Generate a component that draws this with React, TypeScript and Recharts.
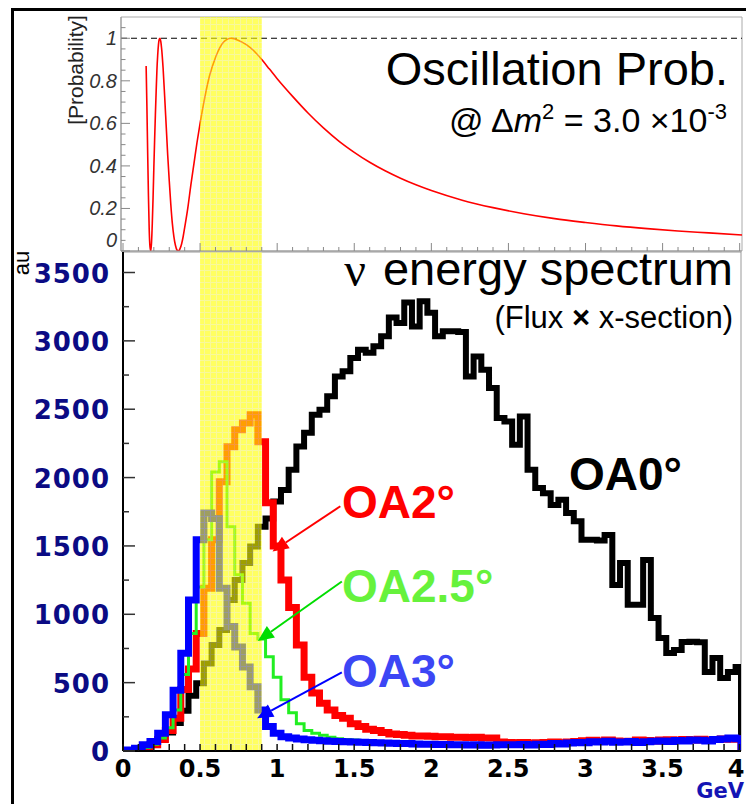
import { LineChart, Line, XAxis, YAxis, ReferenceArea, ReferenceLine } from 'recharts';

// histogram bins are 0.05 GeV wide, centred on multiples of 0.05
const BIN_WIDTH = 0.05;
const BIN_CENTERS = Array.from({ length: 81 }, (_, i) => +(i * BIN_WIDTH).toFixed(2));
const X_END = 4.01;

const OA0 = [
  2, 5, 12, 28, 50, 85, 135, 205, 295, 405,
  495, 640, 775, 885, 1105, 1250, 1375, 1495, 1640, 1700,
  1825, 1910, 2057, 2228, 2327, 2460, 2496, 2594, 2740, 2777,
  2875, 2935, 2913, 2960, 3033, 3170, 3130, 3280, 3105, 3290,
  3205, 3033, 3070, 3070, 3065, 2740, 2886, 2789, 2655, 2435,
  2410, 2240, 2447, 2057, 1923, 1886, 1800, 1837, 1740, 1680,
  1545, 1545, 1540, 1580, 1215, 1376, 1069, 1069, 1398, 973,
  827, 717, 739, 798, 800, 795, 578, 680, 534, 578,
  615,
];
const OA2 = [
  2, 4, 10, 22, 45, 85, 150, 240, 450, 600,
  860, 1190, 1545, 1970, 2225, 2350, 2400, 2460, 2262, 1815,
  1500, 1250, 1050, 775, 540, 425, 350, 300, 260, 240,
  200, 180, 160, 150, 135, 125, 120, 115, 110, 110,
  108, 105, 105, 100, 100, 98, 100, 96, 95, 65,
  62, 60, 62, 58, 60, 62, 65, 60, 66, 70,
  75, 78, 72, 80, 74, 70, 72, 80, 76, 74,
  80, 82, 78, 84, 80, 86, 80, 84, 88, 86,
  90,
];
const OA25 = [
  2, 4, 10, 25, 50, 95, 170, 300, 560, 860,
  1200, 1545, 2040, 2115, 1640, 1290, 1080, 860, 820, 690,
  540, 375, 280, 200, 150, 130, 115, 100, 90, 85,
  80, 75, 72, 70, 68, 66, 62, 60, 60, 58,
  58, 56, 55, 55, 54, 55, 54, 52, 52, 42,
  44, 43, 45, 42, 47, 46, 52, 50, 55, 58,
  57, 64, 62, 68, 62, 63, 66, 60, 65, 70,
  70, 68, 72, 72, 76, 75, 72, 80, 84, 88,
  86,
];
const OA3 = [
  3, 8, 20, 45, 70, 130, 265, 445, 715, 1105,
  1545, 1740, 1700, 1190, 910, 760, 615, 470, 300, 180,
  130, 105, 95, 88, 82, 78, 75, 72, 70, 68,
  66, 64, 62, 60, 58, 56, 55, 54, 52, 50,
  50, 48, 48, 45, 46, 44, 45, 42, 44, 45,
  46, 45, 48, 44, 50, 48, 55, 52, 58, 62,
  60, 68, 65, 72, 64, 66, 70, 62, 68, 72,
  74, 70, 76, 74, 80, 78, 74, 84, 88, 95,
  90,
];

// oscillation probability
const PROB_E = [
  0.15, 0.155, 0.16, 0.165, 0.17, 0.175, 0.18, 0.185, 0.19, 0.195,
  0.2, 0.205, 0.21, 0.215, 0.22, 0.225, 0.23, 0.235, 0.24, 0.245,
  0.25, 0.26, 0.27, 0.28, 0.29, 0.3, 0.31, 0.32, 0.33, 0.34,
  0.35, 0.36, 0.37, 0.38, 0.39, 0.4, 0.42, 0.44, 0.46, 0.48,
  0.5, 0.53, 0.56, 0.6, 0.65, 0.7, 0.75, 0.8, 0.85, 0.9,
  0.95, 1.0, 1.1, 1.2, 1.3, 1.4, 1.5, 1.6, 1.7, 1.8,
  1.9, 2.0, 2.2, 2.4, 2.6, 2.8, 3.0, 3.2, 3.4, 3.6,
  3.8, 4.015,
];
const PROB_P = [
  0.87, 0.68, 0.46, 0.26, 0.1, 0.02, 0.0, 0.04, 0.13, 0.25,
  0.39, 0.52, 0.64, 0.75, 0.85, 0.92, 0.97, 0.995, 1.0, 0.985,
  0.955, 0.86, 0.73, 0.59, 0.45, 0.33, 0.22, 0.13, 0.068, 0.027,
  0.005, 0.0, 0.011, 0.033, 0.067, 0.11, 0.2, 0.31, 0.41, 0.51,
  0.6, 0.72, 0.82, 0.91, 0.98, 1.0, 0.99, 0.97, 0.94, 0.9,
  0.855, 0.81, 0.727, 0.649, 0.579, 0.517, 0.464, 0.417, 0.377, 0.342,
  0.311, 0.284, 0.239, 0.204, 0.175, 0.152, 0.134, 0.118, 0.105, 0.094,
  0.085, 0.075,
];

const X_LABELS = ['0', '0.5', '1', '1.5', '2', '2.5', '3', '3.5', '4'];
const Y_LABELS = ['0', '500', '1000', '1500', '2000', '2500', '3000', '3500'];
const PROB_LABELS = ['0', '0.2', '0.4', '0.6', '0.8', '1'];

const X_TICKS = Array.from({ length: 41 }, (_, i) => i / 10);
const Y_TICKS = Array.from({ length: 15 }, (_, i) => i * 250);
const PROB_TICKS = Array.from({ length: 22 }, (_, i) => +(i * 0.05).toFixed(2));

const BAND = [0.5, 0.9];

// arrows: [start E, start value] -> [tip E, tip value]
const ARROWS = [
  { from: [1.41, 1790], to: [0.97, 1460], color: '#ff0000', width: 2 },
  { from: [1.42, 1240], to: [0.875, 805], color: '#00dd00', width: 2 },
  { from: [1.42, 575], to: [0.87, 240], color: '#0000ff', width: 2 },
];

const spectrum = BIN_CENTERS.map((c, i) => ({
  e: Math.max(0, c - BIN_WIDTH / 2),
  oa0: OA0[i],
  oa2: OA2[i],
  oa25: OA25[i],
  oa3: OA3[i],
}));
spectrum.push({ e: X_END, oa0: 0, oa2: 0, oa25: 0, oa3: 0 });

const prob = PROB_E.map((e, i) => ({ e, p: PROB_P[i] }));

const BOLD = '"DejaVu Sans", Verdana, sans-serif';
const SANS = '"Liberation Sans", Arial, sans-serif';

const isMultiple = (v: number, step: number) => Math.abs(v / step - Math.round(v / step)) < 1e-6;

function SpecXTick(props: any) {
  const { x, y, payload } = props;
  const v = payload.value;
  const major = isMultiple(v, 0.5);
  const last = v > 3.99;
  return (
    <g>
      <line x1={x} x2={x} y1={y} y2={y - 7} stroke="#111" strokeWidth={1.5} />
      {major && (
        <text x={last ? x + 5 : x} y={y + 26} textAnchor={last ? 'end' : 'middle'} fontFamily={BOLD} fontWeight="bold" fontSize={24} fill="#000">
          {X_LABELS[Math.round(v / 0.5)]}
        </text>
      )}
    </g>
  );
}

function SpecYTick(props: any) {
  const { x, y, payload } = props;
  const v = payload.value;
  const major = isMultiple(v, 500);
  return (
    <g>
      <line x1={x} x2={x + (major ? 12 : 6)} y1={y} y2={y} stroke="#333" strokeWidth={1.5} />
      {major && (
        <text x={x - 13} y={y + 10} textAnchor="end" fontFamily={BOLD} fontWeight="bold" fontSize={26} letterSpacing={1} fill="#0b0b84">
          {Y_LABELS[Math.round(v / 500)]}
        </text>
      )}
    </g>
  );
}

function ProbXTick(props: any) {
  const { x, y, payload } = props;
  const major = isMultiple(payload.value, 0.5);
  return <line x1={x} x2={x} y1={y} y2={y - (major ? 8 : 4)} stroke="#888" />;
}

function ProbYTick(props: any) {
  const { x, y, payload } = props;
  const v = payload.value;
  const major = isMultiple(v, 0.2) && v < 1.01;
  return (
    <g>
      <line x1={x} x2={x + (major ? 9 : 4.5)} y1={y} y2={y} stroke="#888" />
      {major && (
        <text x={x - 4} y={v === 0 ? y - 4 : y + 7} textAnchor="end" fontFamily={SANS} fontStyle="italic" fontSize={20} fill="#333">
          {PROB_LABELS[Math.round(v / 0.2)]}
        </text>
      )}
    </g>
  );
}

function arrowShape(color: string, width: number) {
  return (props: any) => {
    const { x1, y1, x2, y2 } = props;
    const dx = x2 - x1;
    const dy = y2 - y1;
    const len = Math.hypot(dx, dy) || 1;
    const ux = dx / len;
    const uy = dy / len;
    const hl = 16;
    const hw = 7;
    const bx = x2 - ux * hl;
    const by = y2 - uy * hl;
    const pts = `${x2},${y2} ${bx - uy * hw},${by + ux * hw} ${bx + uy * hw},${by - ux * hw}`;
    return (
      <g>
        <line x1={x1} y1={y1} x2={bx} y2={by} stroke={color} strokeWidth={width} />
        <polygon points={pts} fill={color} />
      </g>
    );
  };
}

export default function App() {
  return (
    <div style={{ position: 'absolute', left: 0, top: 0, width: 746, height: 804, overflow: 'hidden', background: '#fff' }}>
      <div style={{ position: 'absolute', left: 11, top: 8, width: 900, height: 900, borderLeft: '3px solid #000', borderTop: '3px solid #000' }} />

      {/* hatch used by the highlighted energy window */}
      <svg width={0} height={0} style={{ position: 'absolute' }}>
        <defs>
          <pattern id="bandHatch" width={6} height={6} patternUnits="userSpaceOnUse">
            <rect width={6} height={6} fill="#ffff00" />
            <path d="M0 0.5H6M0.5 0V6" stroke="#f4f460" strokeWidth={1} />
          </pattern>
        </defs>
      </svg>

      <div style={{ position: 'absolute', left: 0, top: 0 }}>
        <LineChart width={746} height={260} data={prob} margin={{ top: 17, right: 4, bottom: 0, left: 0 }}>
          <XAxis
            dataKey="e"
            type="number"
            domain={[-0.013, 4.015]}
            allowDataOverflow
            ticks={X_TICKS}
            interval={0}
            height={9}
            tickSize={0}
            tickMargin={0}
            tick={ProbXTick}
            axisLine={{ stroke: '#999' }}
            tickLine={false}
          />
          <YAxis
            type="number"
            domain={[0, 1.1]}
            allowDataOverflow
            ticks={PROB_TICKS}
            interval={0}
            width={121}
            tickSize={0}
            tickMargin={0}
            tick={ProbYTick}
            axisLine={{ stroke: '#999' }}
            tickLine={false}
          />
          <ReferenceArea x1={-0.013} x2={4.015} y1={0} y2={1.1} fill="none" stroke="#aaa" strokeWidth={1} />
          <ReferenceLine y={1} stroke="#000" strokeDasharray="6 4" strokeWidth={1.2} />
          <Line dataKey="p" type="monotone" stroke="#ff0000" strokeWidth={1.6} dot={false} activeDot={false} isAnimationActive={false} />
          <ReferenceArea x1={BAND[0]} x2={BAND[1]} y1={0} y2={1.1} fill="url(#bandHatch)" fillOpacity={0.62} stroke="none" zIndex={450} />
        </LineChart>
      </div>

      <div style={{ position: 'absolute', left: 0, top: 0 }}>
        <LineChart width={746} height={804} data={spectrum} margin={{ top: 252, right: 5, bottom: 0, left: 0 }}>
          <XAxis
            dataKey="e"
            type="number"
            domain={[0, X_END]}
            allowDataOverflow
            ticks={X_TICKS}
            interval={0}
            height={53}
            tickSize={0}
            tickMargin={0}
            tick={SpecXTick}
            axisLine={{ stroke: '#000', strokeWidth: 2 }}
            tickLine={false}
          />
          <YAxis
            type="number"
            domain={[0, 3650]}
            allowDataOverflow
            ticks={Y_TICKS}
            interval={0}
            width={123}
            tickSize={0}
            tickMargin={0}
            tick={SpecYTick}
            axisLine={{ stroke: '#000', strokeWidth: 2 }}
            tickLine={false}
          />
          <ReferenceArea x1={0} x2={X_END} y1={0} y2={3650} fill="none" stroke="#999" strokeWidth={1} />
          <Line dataKey="oa0" type="stepAfter" stroke="#000" strokeWidth={6} strokeLinejoin="miter" dot={false} activeDot={false} isAnimationActive={false} />
          <Line dataKey="oa2" type="stepAfter" stroke="#ff0000" strokeWidth={7} strokeLinejoin="miter" dot={false} activeDot={false} isAnimationActive={false} />
          <Line dataKey="oa25" type="stepAfter" stroke="#22ee22" strokeWidth={3} strokeLinejoin="miter" dot={false} activeDot={false} isAnimationActive={false} />
          <Line dataKey="oa3" type="stepAfter" stroke="#0000ff" strokeWidth={7} strokeLinejoin="miter" dot={false} activeDot={false} isAnimationActive={false} />
          <ReferenceArea x1={BAND[0]} x2={BAND[1]} y1={0} y2={3650} fill="url(#bandHatch)" fillOpacity={0.62} stroke="none" zIndex={450} />
          {ARROWS.map((a, i) => (
            <ReferenceLine
              key={i}
              segment={[{ x: a.from[0], y: a.from[1] }, { x: a.to[0], y: a.to[1] }]}
              shape={arrowShape(a.color, a.width)}
              zIndex={460}
            />
          ))}
        </LineChart>
      </div>

      <svg width={746} height={804} style={{ position: 'absolute', left: 0, top: 0, pointerEvents: 'none' }}>
        <text x={83} y={70} transform="rotate(-90 83 70)" textAnchor="middle" fontFamily={SANS} fontSize={21} fill="#222">
          [Probability]
        </text>
        <text x={728} y={85} textAnchor="end" fontFamily={SANS} fontSize={47} fill="#000">
          Oscillation Prob.
        </text>
        <text x={727} y={132} textAnchor="end" fontFamily={SANS} fontSize={34} fill="#000">
          @ Δ<tspan fontStyle="italic">m</tspan>
          <tspan fontSize={22} dy={-13}>2</tspan>
          <tspan dy={13}> = 3.0 ×10</tspan>
          <tspan fontSize={22} dy={-13}>-3</tspan>
        </text>
        <text x={29} y={263} transform="rotate(-90 29 263)" textAnchor="middle" fontFamily={SANS} fontSize={22} fill="#000">
          au
        </text>
        <text x={355} y={286} textAnchor="middle" fontFamily='"Liberation Serif", serif' fontSize={48} fill="#000">
          ν
        </text>
        <text x={733} y={285} textAnchor="end" fontFamily={SANS} fontSize={47} fill="#000">
          energy spectrum
        </text>
        <text x={733} y={328} textAnchor="end" fontFamily={SANS} fontSize={31} fill="#000">
          (Flux <tspan fontWeight="bold">×</tspan> x-section)
        </text>
        <text x={569} y={490} fontFamily={SANS} fontWeight="bold" fontSize={46} fill="#000">
          OA0°
        </text>
        <text x={342} y={518} fontFamily={SANS} fontWeight="bold" fontSize={46} fill="#ff0000">
          OA2°
        </text>
        <text x={342} y={602} fontFamily={SANS} fontWeight="bold" fontSize={46} fill="#66f23c">
          OA2.5°
        </text>
        <text x={342} y={687} fontFamily={SANS} fontWeight="bold" fontSize={46} fill="#3c46f5">
          OA3°
        </text>
        <text x={744} y={798} textAnchor="end" fontFamily={BOLD} fontWeight="bold" fontSize={21} fill="#1414b4">
          GeV
        </text>
      </svg>
    </div>
  );
}
